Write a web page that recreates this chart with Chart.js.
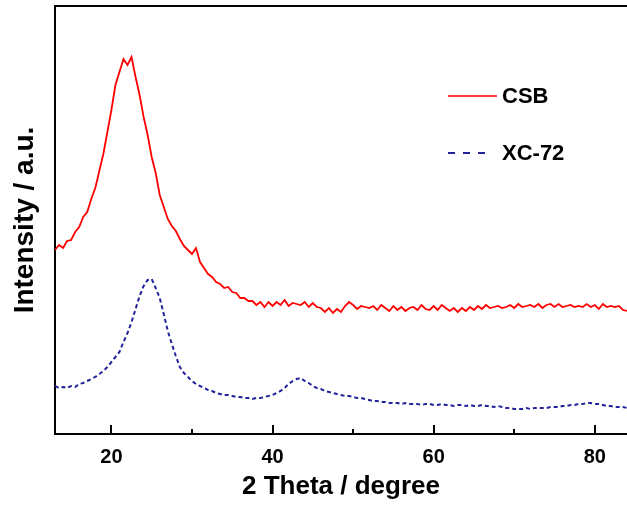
<!DOCTYPE html>
<html>
<head>
<meta charset="utf-8">
<script src="https://cdn.jsdelivr.net/npm/chart.js@4"></script>
<style>
  html, body { margin: 0; padding: 0; background: #ffffff; }
  #wrap { width: 627px; height: 506px; }
</style>
</head>
<body>
<div id="wrap"><canvas id="xrd"></canvas></div>
<script>
// 2-theta sampling grid (degrees)
const twoTheta = [
  13.0,13.5,14.0,14.5,15.0,15.5,16.0,16.5,17.0,17.5,18.0,18.5,19.0,19.5,20.0,20.5,21.0,21.5,22.0,22.5,
  23.0,23.5,24.0,24.5,25.0,25.5,26.0,26.5,27.0,27.5,28.0,28.5,29.0,29.5,30.0,30.5,31.0,31.5,32.0,32.5,
  33.0,33.5,34.0,34.5,35.0,35.5,36.0,36.5,37.0,37.5,38.0,38.5,39.0,39.5,40.0,40.5,41.0,41.5,42.0,42.5,
  43.0,43.5,44.0,44.5,45.0,45.5,46.0,46.5,47.0,47.5,48.0,48.5,49.0,49.5,50.0,50.5,51.0,51.5,52.0,52.5,
  53.0,53.5,54.0,54.5,55.0,55.5,56.0,56.5,57.0,57.5,58.0,58.5,59.0,59.5,60.0,60.5,61.0,61.5,62.0,62.5,
  63.0,63.5,64.0,64.5,65.0,65.5,66.0,66.5,67.0,67.5,68.0,68.5,69.0,69.5,70.0,70.5,71.0,71.5,72.0,72.5,
  73.0,73.5,74.0,74.5,75.0,75.5,76.0,76.5,77.0,77.5,78.0,78.5,79.0,79.5,80.0,80.5,81.0,81.5,82.0,82.5,
  83.0,83.5,84.0
];

// CSB intensity (a.u., offset trace)
const csbIntensity = [
  184,189,186,193,194,202,207,217,222,235,246,263,280,302,324,349,362,375,369,377,
  357,339,317,299,277,261,239,227,215,208,203,195,188,184,180,186,172,166,160,157,
  152,150,146,147,142,141,136,136,133,133,129,132,127,132,128,132,129,134,128,131,
  130,129,132,127,131,127,126,122,126,121,125,122,128,132,129,125,128,127,126,128,
  124,129,126,123,128,124,127,123,126,127,124,129,125,124,128,124,129,126,123,126,
  122,126,123,127,124,128,125,129,126,127,128,126,127,129,126,130,127,128,129,127,
  130,126,129,130,127,130,127,128,129,127,128,127,130,127,129,125,130,127,128,127,
  128,124,123
];

// XC-72 intensity (a.u.)
const xc72Intensity = [
  48,46,47,46,48,47,50,51,53,55,57,60,63,67,72,77,82,92,101,112,
  125,138,148,154,155,146,136,120,103,90,78,67,61,57,53,50,48,46,44,43,
  41,40,39,39,38,37,37,36,36,35,36,36,37,38,39,41,43,46,50,53,
  55,56,53,51,48,46,45,43,42,41,40,39,38,38,37,36,36,35,34,33,
  33,32,32,31,31,31,30,31,30,30,30,29,30,30,29,29,30,29,29,28,
  29,29,28,29,28,28,29,28,28,27,28,27,26,26,25,25,25,26,25,26,
  26,26,26,27,27,27,28,28,29,29,30,30,31,31,30,30,29,28,28,27,
  27,27,26
];

const seriesNames = ['CSB', 'XC-72'];
const majorTicks = [20, 40, 60, 80];
const minorTicks = [30, 50, 70];

const toPoints = (ys) => ys.map((y, i) => ({ x: twoTheta[i], y: y }));

const FONT = '"Liberation Sans", Arial, sans-serif';

// Frame: top border and inward tick marks on the 2-theta axis
const framePlugin = {
  id: 'frame',
  afterDatasetsDraw(chart) {
    const { ctx, chartArea, scales } = chart;
    const xs = scales.x;
    ctx.save();
    ctx.strokeStyle = '#000';
    ctx.lineWidth = 2;
    ctx.beginPath();
    ctx.moveTo(chartArea.left - 1, chartArea.top);
    ctx.lineTo(chartArea.right, chartArea.top);
    ctx.stroke();
    const drawTick = (v, len) => {
      const px = Math.round(xs.getPixelForValue(v));
      ctx.beginPath();
      ctx.moveTo(px, chartArea.bottom);
      ctx.lineTo(px, chartArea.bottom - len);
      ctx.stroke();
    };
    majorTicks.forEach(v => drawTick(v, 9));
    minorTicks.forEach(v => drawTick(v, 5));
    ctx.restore();
  }
};

// Legend drawn inside the plot, one row per dataset
const insideLegend = {
  id: 'insideLegend',
  afterDraw(chart) {
    const { ctx } = chart;
    const rows = [
      { y: 96, x0: 448, x1: 497 },
      { y: 153, x0: 448, x1: 490 }
    ];
    ctx.save();
    chart.data.datasets.forEach((ds, i) => {
      const r = rows[i];
      ctx.strokeStyle = ds.borderColor;
      ctx.lineWidth = i === 1 ? 2 : 1.6;
      ctx.setLineDash(i === 1 ? [7, 8] : []);
      ctx.beginPath();
      ctx.moveTo(r.x0, r.y);
      ctx.lineTo(r.x1, r.y);
      ctx.stroke();
      ctx.setLineDash([]);
      ctx.fillStyle = '#000';
      ctx.font = 'bold 22px ' + FONT;
      ctx.textBaseline = 'middle';
      ctx.textAlign = 'left';
      ctx.fillText(ds.label, 502, r.y + 1);
    });
    ctx.restore();
  }
};

new Chart(document.getElementById('xrd'), {
  type: 'line',
  data: {
    datasets: [
      {
        label: seriesNames[0],
        data: toPoints(csbIntensity),
        borderColor: '#ff0000',
        borderWidth: 1.8,
        pointRadius: 0,
        tension: 0
      },
      {
        label: seriesNames[1],
        data: toPoints(xc72Intensity),
        borderColor: '#22229a',
        borderWidth: 2,
        borderDash: [4, 3],
        pointRadius: 0,
        tension: 0
      }
    ]
  },
  options: {
    responsive: true,
    maintainAspectRatio: false,
    animation: false,
    layout: { padding: { top: 6, right: 0, bottom: 0, left: 0 } },
    plugins: {
      legend: { display: false },
      tooltip: { enabled: false }
    },
    scales: {
      x: {
        type: 'linear',
        min: 13,
        max: 84,
        afterBuildTicks: (scale) => { scale.ticks = majorTicks.map(v => ({ value: v })); },
        afterFit: (scale) => { scale.height = 72; },
        grid: { display: true, drawOnChartArea: false, drawTicks: false },
        border: { display: true, color: '#000', width: 2 },
        ticks: {
          color: '#000',
          padding: 11,
          font: { family: FONT, size: 20, weight: 'bold' },
          callback: (v) => String(v)
        },
        title: {
          display: true,
          text: '2 Theta / degree',
          color: '#000',
          font: { family: FONT, size: 26, weight: 'bold' },
          padding: { top: 0, bottom: 4 }
        }
      },
      y: {
        type: 'linear',
        min: 0,
        max: 428,
        afterFit: (scale) => { scale.width = 55; },
        grid: { display: false, drawTicks: false },
        border: { display: true, color: '#000', width: 2 },
        ticks: { display: false },
        title: {
          display: true,
          text: 'Intensity / a.u.',
          color: '#000',
          font: { family: FONT, size: 28, weight: 'bold' },
          padding: { top: 8, bottom: 0 }
        }
      }
    }
  },
  plugins: [framePlugin, insideLegend]
});
</script>
</body>
</html>
